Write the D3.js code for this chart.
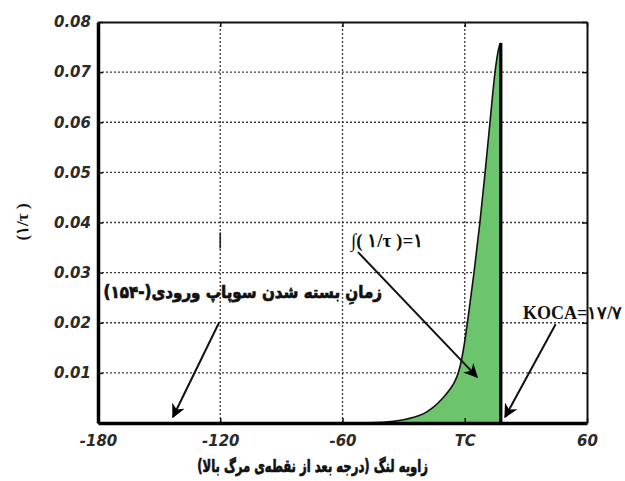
<!DOCTYPE html>
<html>
<head>
<meta charset="utf-8">
<script src="https://cdn.jsdelivr.net/npm/d3@7"></script>
<style>
  html, body { margin: 0; padding: 0; background: #fff; }
  svg { display: block; }
</style>
</head>
<body>
<svg id="chart" width="625" height="481"></svg>
<script>
// Crank angle (deg after TDC) and the rate 1/tau
const angles = [-180, -120, -60, -46, -40, -35, -30, -25, -20, -16, -13, -10, -7, -5, -3, -1.5, 0, 1.3, 4.6, 7.5, 10.0, 12.4, 14.7, 16.4, 17.3, 17.7];
const rates  = [0, 0, 0, 0, 0.0001, 0.0003, 0.0006, 0.0011, 0.0018, 0.0029, 0.0040, 0.0053, 0.0068, 0.0081, 0.0100, 0.0126, 0.0162, 0.020, 0.030, 0.040, 0.050, 0.060, 0.070, 0.0745, 0.0757, 0.0758];

const xTicks = [-180, -120, -60, 0, 60];
const xTickLabels = ["-180", "-120", "-60", "TC", "60"];
const yTicks = [0.01, 0.02, 0.03, 0.04, 0.05, 0.06, 0.07, 0.08];
const yTickLabels = ["0.01", "0.02", "0.03", "0.04", "0.05", "0.06", "0.07", "0.08"];

const xTitle = "زاویه لنگ (درجه بعد از نقطه‌ی مرگ بالا)";
const yTitle = "(۱/τ )";
const integralNote = "∫( ۱/τ )=۱";
const ivcNote = "زمانِ بسته شدن سوپاپ ورودی(-۱۵۴)";
const kocaNote = "KOCA=۱۷/۷";

const W = 625, H = 481;
const margin = { left: 98, right: 38, top: 22, bottom: 58 };

const svg = d3.select("#chart");
const x = d3.scaleLinear().domain([-180, 60]).range([margin.left, W - margin.right]);
const y = d3.scaleLinear().domain([0, 0.08]).range([H - margin.bottom, margin.top]);

const data = angles.map((a, i) => ({ a, v: rates[i] }));

// dotted grid
const grid = svg.append("g").attr("stroke", "#3a3a3a").attr("stroke-width", 1.3)
  .attr("stroke-dasharray", "2,2");
grid.selectAll("line.gx").data(xTicks.slice(1, -1)).join("line")
  .attr("x1", d => x(d)).attr("x2", d => x(d))
  .attr("y1", y(0)).attr("y2", y(0.08));
grid.selectAll("line.gy").data(yTicks.slice(0, -1)).join("line")
  .attr("x1", x(-180)).attr("x2", x(60))
  .attr("y1", d => y(d)).attr("y2", d => y(d));

// filled area under the curve
const area = d3.area().x(d => x(d.a)).y0(y(0)).y1(d => y(d.v)).curve(d3.curveBasis);
svg.append("path").datum(data).attr("d", area).attr("fill", "#6cc46c");

const line = d3.line().x(d => x(d.a)).y(d => y(d.v)).curve(d3.curveBasis);
svg.append("path").datum(data).attr("d", line)
  .attr("fill", "none").attr("stroke", "#111").attr("stroke-width", 1.6);

// closing edge at the end of combustion
const last = data[data.length - 1];
svg.append("line")
  .attr("x1", x(last.a)).attr("x2", x(last.a))
  .attr("y1", y(0)).attr("y2", y(last.v))
  .attr("stroke", "#000").attr("stroke-width", 3.2);

// axes with inward ticks on all four sides
const tickFont = "italic bold 15px 'DejaVu Sans', sans-serif";
const gx = svg.append("g").attr("transform", `translate(0,${y(0)})`)
  .call(d3.axisBottom(x).tickValues(xTicks).tickFormat((d, i) => xTickLabels[i])
    .tickSizeInner(-5).tickSizeOuter(0).tickPadding(12));
const gy = svg.append("g").attr("transform", `translate(${x(-180)},0)`)
  .call(d3.axisLeft(y).tickValues(yTicks).tickFormat((d, i) => yTickLabels[i])
    .tickSizeInner(-5).tickSizeOuter(0).tickPadding(7));
svg.append("g").attr("transform", `translate(0,${y(0.08)})`)
  .call(d3.axisTop(x).tickValues(xTicks).tickFormat("").tickSizeInner(-5).tickSizeOuter(0));
svg.append("g").attr("transform", `translate(${x(60)},0)`)
  .call(d3.axisRight(y).tickValues(yTicks).tickFormat("").tickSizeInner(-5).tickSizeOuter(0));

svg.selectAll(".tick line").attr("stroke", "#111").attr("stroke-width", 1.5);
svg.selectAll(".domain").attr("stroke", "#111").attr("stroke-width", 2);
gx.select(".domain").attr("stroke", "#000").attr("stroke-width", 3.5);
gy.select(".domain").attr("stroke", "#000").attr("stroke-width", 3.5);
svg.selectAll(".tick text").style("font", tickFont).attr("fill", "#2a2a2a");

// Persian text: drawn once, then squeezed horizontally into [left, right]
function fittedText(str, left, right, baseline, font) {
  const g = svg.append("g");
  const t = g.append("text")
    .attr("x", 0).attr("y", 0).attr("direction", "rtl")
    .style("font", font).attr("fill", "#111")
    .attr("stroke", "#111").attr("stroke-width", 0.7).attr("stroke-linejoin", "round")
    .text(str);
  const bb = t.node().getBBox();
  const sx = (right - left) / bb.width;
  g.attr("transform", `translate(${left},${baseline}) scale(${sx},1) translate(${-bb.x},0)`);
  return g;
}

// axis titles
fittedText(xTitle, 197, 428, 472, "bold 17px 'DejaVu Sans', sans-serif");
svg.append("text")
  .attr("transform", "translate(28,222) rotate(-90)")
  .attr("text-anchor", "middle")
  .style("font", "bold 17px 'Liberation Serif', 'DejaVu Serif', serif").attr("fill", "#111")
  .text(yTitle);

// annotations with arrows
svg.append("defs").append("marker")
  .attr("id", "head").attr("viewBox", "0 0 10 10").attr("refX", 9).attr("refY", 5)
  .attr("markerWidth", 7).attr("markerHeight", 7).attr("orient", "auto-start-reverse")
  .attr("markerUnits", "strokeWidth")
  .append("path").attr("d", "M0,0 L10,5 L0,10 L3,5 Z").attr("fill", "#000");

const arrows = [
  { from: [-52.4, 0.0341], to: [6.0, 0.0092] },
  { from: [-120.5, 0.0201], to: [-143.2, 0.0012] },
  { from: [44.6, 0.0197], to: [19.8, 0.0012] }
];
svg.selectAll("line.arrow").data(arrows).join("line")
  .attr("class", "arrow")
  .attr("x1", d => x(d.from[0])).attr("y1", d => y(d.from[1]))
  .attr("x2", d => x(d.to[0])).attr("y2", d => y(d.to[1]))
  .attr("stroke", "#111").attr("stroke-width", 2)
  .attr("marker-end", "url(#head)");

// short dark stroke on the -120 grid line
svg.append("line")
  .attr("x1", x(-120)).attr("x2", x(-120))
  .attr("y1", y(0.0380)).attr("y2", y(0.0348))
  .attr("stroke", "#222").attr("stroke-width", 1.6);

svg.append("text")
  .attr("x", x(-55.8)).attr("y", y(0.0352))
  .style("font", "bold 19px 'Liberation Serif', 'DejaVu Serif', serif").attr("fill", "#111")
  .text(integralNote);

fittedText(ivcNote, x(-177.4), x(-40.6), y(0.0249), "bold 17px 'DejaVu Sans', sans-serif");

svg.append("text")
  .attr("x", x(28.6)).attr("y", y(0.0207))
  .style("font", "bold 18px 'Liberation Serif', 'DejaVu Serif', serif").attr("fill", "#111")
  .text(kocaNote);
</script>
</body>
</html>
